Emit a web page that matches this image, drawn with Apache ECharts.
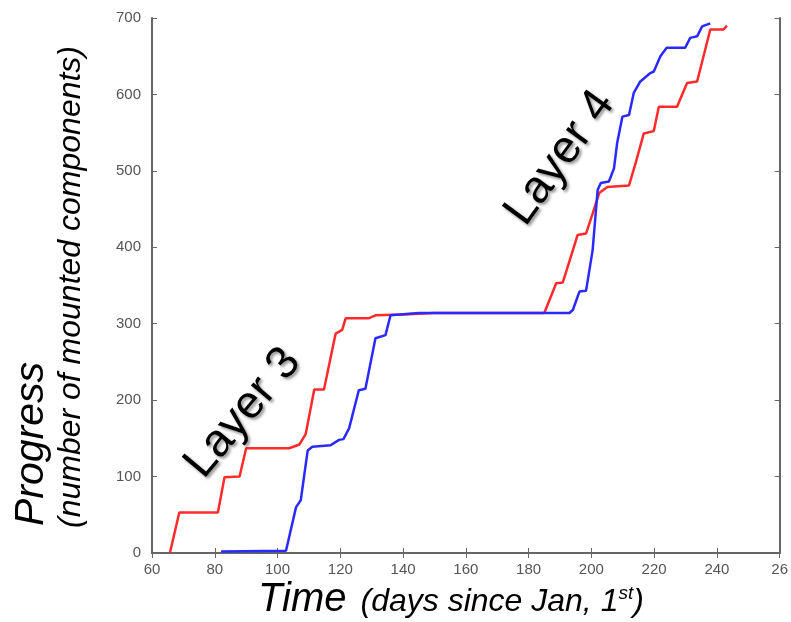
<!DOCTYPE html>
<html>
<head>
<meta charset="UTF-8">
<title>progress</title>
<style>
  html, body { margin: 0; padding: 0; background: #fff; }
  #chart { width: 791px; height: 622px; }
</style>
</head>
<body>
<div id="chart"></div>
<script src="https://cdn.jsdelivr.net/npm/echarts@6/dist/echarts.min.js"></script>
<script>
// red curve (days, mounted components)
var redDays  = [65.7, 68.7, 81, 83.1, 87.9, 90, 103.7, 107, 109, 111.7, 114.8, 118.5, 120.6, 121.7, 129, 131.2, 140, 150, 185,
                188.8, 190.9, 193.5, 195.6, 198.3, 200.4, 202.5, 205.1, 212, 214.1, 216.7, 219.9, 221.5, 227.3, 230.5, 233.7, 237.9, 242.1, 243.2];
var redCount = [0, 53, 53, 99, 100, 137, 137, 142, 156, 214, 214, 287, 292, 307, 307, 311, 312, 314, 314,
                353, 354, 388, 416, 418, 444, 471, 479, 481, 510, 549, 552, 584, 584, 615, 617, 685, 685, 690];
// blue curve
var blueDays  = [82, 102.7, 105.9, 107.4, 109.6, 111.1, 116.9, 119.6, 121, 122.8, 125.9, 128, 131.2, 134.4, 136, 145, 193,
                 194.1, 196.2, 198.3, 200.4, 202, 203, 205.6, 207.2, 208.2, 209.9, 212, 213.5, 215.6, 218.8, 219.9, 222, 224, 229.9, 231.5, 233.7, 235.3, 237.9];
var blueCount = [2, 3, 60, 69, 134, 139, 141, 148, 149, 163, 213, 215, 281, 285, 311, 314, 314,
                 318, 342, 343, 396, 475, 484, 486, 503, 536, 571, 573, 602, 617, 628, 630, 650, 661, 661, 674, 676, 689, 693];

var xTicks = [60, 80, 100, 120, 140, 160, 180, 200, 220, 240, 260];
var yTicks = [0, 100, 200, 300, 400, 500, 600, 700];

function pairs(xs, ys) {
    var out = [];
    for (var i = 0; i < xs.length; i++) out.push([xs[i], ys[i]]);
    return out;
}

var frameColor = '#666';
var tickFont = { color: '#555', fontSize: 15, fontFamily: 'Liberation Sans Narrow, Liberation Sans, sans-serif' };

var myChart = echarts.init(document.getElementById('chart'));
var option = {
    animation: false,
    grid: { left: 152, right: 8, top: 18, bottom: 69, containLabel: false },
    xAxis: [{
        type: 'value',
        min: xTicks[0], max: xTicks[xTicks.length - 1], interval: 20,
        axisLine: { lineStyle: { color: frameColor, width: 2 } },
        axisTick: { inside: true, length: 5, lineStyle: { color: frameColor } },
        axisLabel: Object.assign({ margin: 9, formatter: function (v) { return v === 260 ? '26' : v; } }, tickFont),
        splitLine: { show: false }
    }, {
        type: 'value', position: 'top',
        min: xTicks[0], max: xTicks[xTicks.length - 1], interval: 20,
        axisLine: { show: true, lineStyle: { color: frameColor, width: 2 } },
        axisTick: { inside: true, length: 5, lineStyle: { color: frameColor } },
        axisLabel: { show: false },
        splitLine: { show: false }
    }],
    yAxis: [{
        type: 'value',
        min: yTicks[0], max: yTicks[yTicks.length - 1], interval: 100,
        axisLine: { show: true, lineStyle: { color: frameColor, width: 2 } },
        axisTick: { show: true, inside: true, length: 5, lineStyle: { color: frameColor } },
        axisLabel: Object.assign({ margin: 11 }, tickFont),
        splitLine: { show: false }
    }, {
        type: 'value', position: 'right',
        min: yTicks[0], max: yTicks[yTicks.length - 1], interval: 100,
        axisLine: { show: true, lineStyle: { color: frameColor, width: 2 } },
        axisTick: { show: true, inside: true, length: 5, lineStyle: { color: frameColor } },
        axisLabel: { show: false },
        splitLine: { show: false }
    }],
    series: [{
        type: 'line',
        data: pairs(redDays, redCount),
        showSymbol: false,
        lineStyle: { color: '#ff2a2a', width: 2.5 },
        z: 3
    }, {
        type: 'line',
        data: pairs(blueDays, blueCount),
        showSymbol: false,
        lineStyle: { color: '#2a2aff', width: 2.5 },
        z: 4
    }],
    graphic: [{
        type: 'text', x: 32, y: 526, rotation: Math.PI / 2,
        style: { text: 'Progress', fill: '#000', font: 'italic 41px Liberation Sans, Arial, sans-serif',
                 textAlign: 'left', textVerticalAlign: 'middle' }
    }, {
        type: 'text', x: 71, y: 528, rotation: Math.PI / 2,
        style: { text: '(number of mounted components)', fill: '#000', font: 'italic 32px Liberation Sans, Arial, sans-serif',
                 textAlign: 'left', textVerticalAlign: 'middle' }
    }, {
        type: 'text', x: 258, y: 600,
        style: {
            text: '{big|Time}{small|(days since Jan, 1}{sup|st}{small2|)}',
            fill: '#000', textAlign: 'left', textVerticalAlign: 'middle',
            rich: {
                big: { font: 'italic 40px Liberation Sans, Arial, sans-serif', fill: '#000' },
                small: { font: 'italic 32px Liberation Sans, Arial, sans-serif', fill: '#000', padding: [4, 0, 0, 14] },
                small2: { font: 'italic 32px Liberation Sans, Arial, sans-serif', fill: '#000', padding: [4, 0, 0, 0] },
                sup: { font: 'italic 19px Liberation Sans, Arial, sans-serif', fill: '#000', padding: [0, 0, 12, 0] }
            }
        }
    }, {
        type: 'text', x: 243, y: 413, rotation: 50 * Math.PI / 180,
        style: { text: 'Layer 3', fill: '#000', font: '46px Liberation Sans, Arial, sans-serif',
                 textAlign: 'center', textVerticalAlign: 'middle',
                 textShadowColor: 'rgba(0,0,0,0.45)', textShadowBlur: 3, textShadowOffsetX: 2, textShadowOffsetY: 2 }
    }, {
        type: 'text', x: 560, y: 158, rotation: 54 * Math.PI / 180,
        style: { text: 'Layer 4', fill: '#000', font: '46px Liberation Sans, Arial, sans-serif',
                 textAlign: 'center', textVerticalAlign: 'middle',
                 textShadowColor: 'rgba(0,0,0,0.45)', textShadowBlur: 3, textShadowOffsetX: 2, textShadowOffsetY: 2 }
    }]
};
myChart.setOption(option);
</script>
</body>
</html>
